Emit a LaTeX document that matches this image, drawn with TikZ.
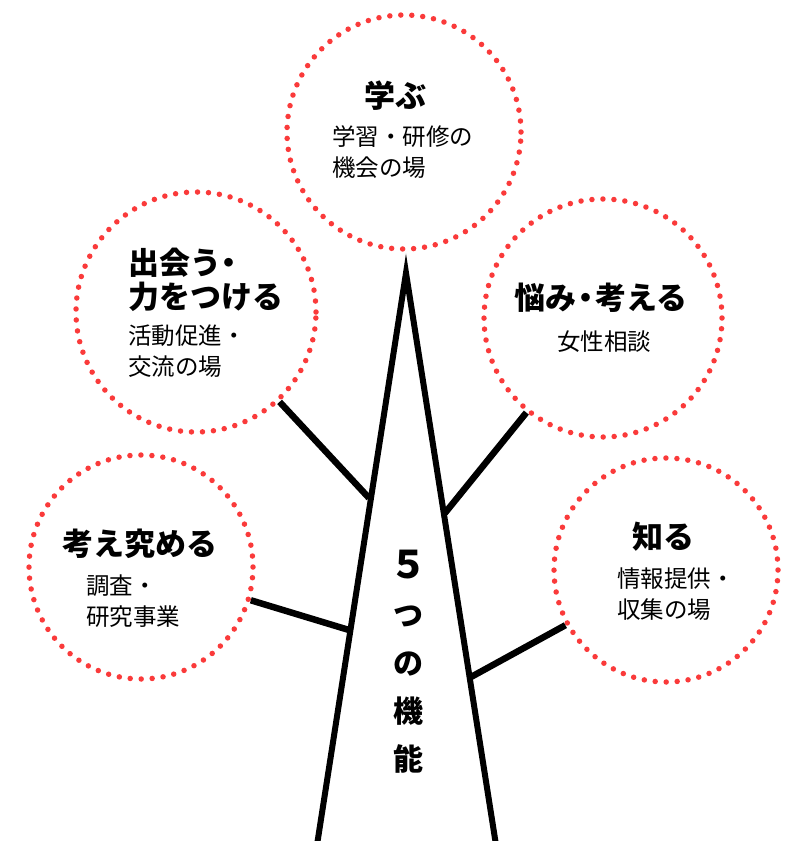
\documentclass[tikz,border=0pt]{standalone}
\usepackage{fontspec}
\setmainfont{Noto Sans CJK JP}
\definecolor{dotred}{RGB}{250,58,58}
\tikzset{
  dotcircle/.style={circle, draw=dotred, line width=5.5pt, line cap=round,
    dash pattern=on 0pt off 11pt, inner sep=0pt},
  trunkline/.style={line width=6pt, line join=miter, black},
  branch/.style={line width=6.5pt, black},
  title/.style={font=\bfseries\fontsize{31}{34}\selectfont, inner sep=0pt, align=left},
  sub/.style={font=\fontsize{23.5}{31}\selectfont, inner sep=0pt, align=left},
  trunktext/.style={font=\bfseries\fontsize{30}{48}\selectfont, inner sep=0pt, align=center}
}
\begin{document}
\begin{tikzpicture}[x=1pt,y=-1pt]
\useasboundingbox (0,0) rectangle (790,841);
% circles
\node[dotcircle, minimum size=234pt] (c1) at (404,132) {};
\node[dotcircle, minimum size=240pt] (c2) at (196,312) {};
\node[dotcircle, minimum size=238pt] (c3) at (603,318) {};
\node[dotcircle, minimum size=224pt] (c4) at (141,567) {};
\node[dotcircle, minimum size=224pt] (c5) at (666,570) {};
% trunk
\coordinate (apex) at (406,273);
\coordinate (bl) at (317,845);
\coordinate (br) at (496,845);
\draw[trunkline] (bl) -- (apex) -- (br);
% branch ends on trunk
\coordinate (t2) at (369,498);
\coordinate (t3) at (445,513);
\coordinate (t4) at (349,630);
\coordinate (t5) at (471,677);
\draw[branch] (c2) -- (t2);
\draw[branch] (c3) -- (t3);
\draw[branch] (c4) -- (t4);
\draw[branch] (c5) -- (t5);
% texts
\node[title] (h1) at (395,96) {学ぶ};
\node[sub, anchor=west] (s1) at (332,152) {学習・研修の\\機会の場};
\node[title, anchor=west] (h2) at (128,280) {出会う\kern-0.25em・\\力をつける};
\node[sub, anchor=west] (s2) at (128,351) {活動促進・\\交流の場};
\node[title] (h3) at (601,298) {悩み\kern-0.2em・\kern-0.2em考える};
\node[sub] (s3) at (604,342) {女性相談};
\node[title] (h4) at (140,544) {考え究める};
\node[sub, anchor=west] (s4) at (86,601) {調査・\\研究事業};
\node[title] (h5) at (663,537) {知る};
\node[sub, anchor=west] (s5) at (617,594) {情報提供・\\収集の場};
\node[trunktext] (tt) at (408,662) {{\fontsize{38}{48}\selectfont ５}\\つ\\の\\機\\能};
\end{tikzpicture}
\end{document}
